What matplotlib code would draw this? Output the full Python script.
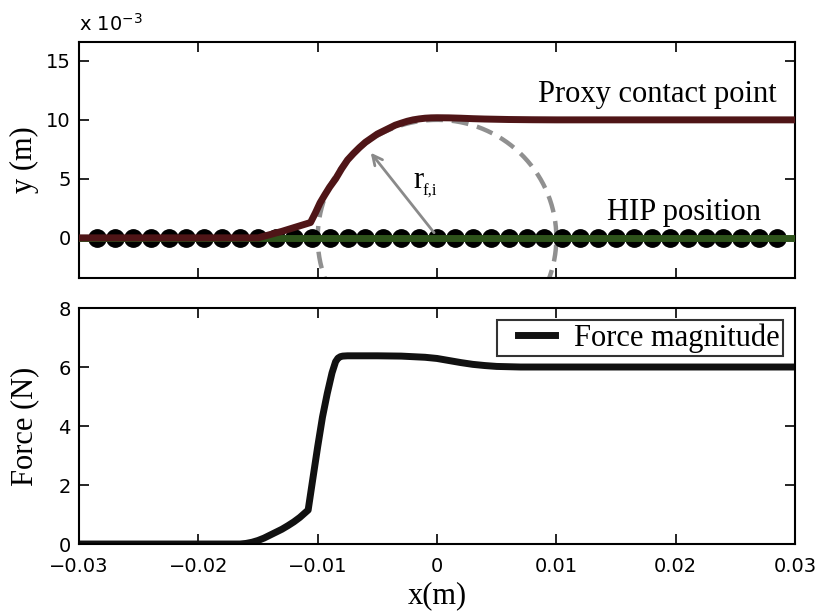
import numpy as np
import matplotlib
matplotlib.use("Agg")
import matplotlib.pyplot as plt
from matplotlib.legend_handler import HandlerLine2D

# ---- data -------------------------------------------------------------
# proxy contact point trajectory (x in m, y in 1e-3 m)
proxy_x = [-0.030, -0.0150, -0.0130, -0.0106, -0.0102, -0.0098, -0.0094,
           -0.0090, -0.0085, -0.0080, -0.0075, -0.0070, -0.0065, -0.0060,
           -0.0055, -0.0050, -0.0045, -0.0040, -0.0035, -0.0030, -0.0025,
           -0.0020, -0.0015, -0.0010, -0.0005, 0.0, 0.001, 0.002, 0.003,
           0.004, 0.005, 0.006, 0.008, 0.010, 0.030]
proxy_y = [0.0, 0.0, 0.55, 1.3, 2.1, 2.97, 3.65, 4.3, 5.0, 5.85, 6.6, 7.15,
           7.65, 8.1, 8.45, 8.8, 9.05, 9.3, 9.55, 9.72, 9.88, 10.0, 10.08,
           10.14, 10.17, 10.18, 10.17, 10.14, 10.1, 10.07, 10.05, 10.03,
           10.01, 10.0, 10.0]

# haptic interface point samples (y = 0)
hip_x = [-0.0285 + 0.0015 * k for k in range(39)]
hip_y = [0.0] * len(hip_x)
hip_line_x = [-0.03, 0.03]
hip_line_y = [0.0, 0.0]

# contact radius (m) of the dashed boundary
radius = 0.01

# force magnitude (N)
force_x = [-0.030, -0.0165, -0.0160, -0.0155, -0.0150, -0.0145, -0.0140,
           -0.0135, -0.0130, -0.0125, -0.0120, -0.0115, -0.0108, -0.0104,
           -0.0100, -0.0096, -0.0092, -0.0088, -0.0085, -0.0083, -0.0081,
           -0.0079, -0.0075, -0.0050, -0.0030, -0.0020, -0.0010, 0.0,
           0.001, 0.002, 0.003, 0.004, 0.005, 0.006, 0.007, 0.030]
force_y = [0.0, 0.0, 0.02, 0.06, 0.12, 0.2, 0.3, 0.4, 0.5, 0.62, 0.75, 0.9,
           1.15, 2.23, 3.3, 4.3, 5.1, 5.8, 6.18, 6.3, 6.35, 6.37, 6.38, 6.38,
           6.37, 6.35, 6.33, 6.29, 6.22, 6.15, 6.09, 6.05, 6.02, 6.01, 6.0,
           6.0]

x_ticks = [-0.03, -0.02, -0.01, 0, 0.01, 0.02, 0.03]
x_ticklabels = ["\u22120.03", "\u22120.02", "\u22120.01", "0", "0.01", "0.02", "0.03"]
y_top_ticks = [0, 5, 10, 15]
y_bot_ticks = [0, 2, 4, 6, 8]

# ---- style ------------------------------------------------------------
serif = "Liberation Serif"
plt.rcParams["font.family"] = "DejaVu Sans"
tick_fs = 14
label_fs = 22

fig = plt.figure(figsize=(8.19, 6.12), dpi=100)
ax1 = fig.add_axes([0.0965, 0.5458, 0.8742, 0.3856])
ax2 = fig.add_axes([0.0965, 0.1111, 0.8742, 0.3856])

for ax in (ax1, ax2):
    ax.set_xlim(-0.03, 0.03)
    ax.set_xticks(x_ticks)
    ax.tick_params(direction="in", length=7, width=1.2, top=True, right=True,
                   labelsize=tick_fs, pad=6)
    ax.tick_params(axis="x", pad=9)
    for s in ax.spines.values():
        s.set_linewidth(1.5)

# ---- top panel --------------------------------------------------------
th = np.linspace(0, 2 * np.pi, 400)
ax1.plot(radius * np.cos(th), radius * 1e3 * np.sin(th), color="#909090",
         lw=3.2, dashes=(3.8, 2.0), zorder=1)
ax1.plot(hip_x, hip_y, "o", color="black", ms=12.5, zorder=2)
ax1.plot(hip_line_x, hip_line_y, color="#2e531b", lw=5, zorder=3)
ax1.plot(proxy_x, proxy_y, color="#4f1517", lw=5, zorder=4,
         solid_joinstyle="round")

ax1.annotate("", xy=(-0.0057, 7.4), xytext=(-0.0001, 0.25),
             arrowprops=dict(arrowstyle="->,head_length=0.7,head_width=0.35",
                             color="#8a8a8a", lw=2.0), zorder=5)
ax1.text(-0.002, 4.2, "r", fontsize=label_fs, family=serif,
         ha="left", va="baseline")
ax1.text(-0.00122, 3.6, "f,i", fontsize=12, family=serif,
         ha="left", va="baseline")
ax1.text(0.00846, 11.5, "Proxy contact point", fontsize=label_fs,
         family=serif, ha="left", va="baseline")
ax1.text(0.01425, 1.5, "HIP position", fontsize=label_fs,
         family=serif, ha="left", va="baseline")

ax1.set_ylim(-3.4, 16.6)
ax1.set_yticks(y_top_ticks)
ax1.set_xticklabels([])
ax1.set_ylabel("y (m)", fontsize=label_fs, family=serif)
ax1.yaxis.set_label_coords(-0.056, 0.5)
ax1.text(0.0, 1.03, r"x 10$^{\mathsf{-3}}$", transform=ax1.transAxes,
         fontsize=tick_fs, ha="left", va="bottom")

# ---- bottom panel -----------------------------------------------------
line, = ax2.plot(force_x, force_y, color="#111111", lw=5,
                 label="Force magnitude", solid_joinstyle="round")
ax2.set_ylim(0, 8)
ax2.set_yticks(y_bot_ticks)
ax2.set_xticklabels(x_ticklabels)
ax2.set_ylabel("Force (N)", fontsize=label_fs, family=serif)
ax2.yaxis.set_label_coords(-0.056, 0.5)
ax2.set_xlabel("x(m)", fontsize=label_fs, family=serif, labelpad=4)

leg = ax2.legend(loc="upper right", prop={"family": serif, "size": label_fs},
                 frameon=True, fancybox=False, edgecolor="black",
                 handlelength=1.8, borderpad=0.1, borderaxespad=0.4,
                 handletextpad=0.63,
                 handler_map={line: HandlerLine2D(xpad=0.6)})
leg.get_frame().set_linewidth(1.5)

fig.savefig("out.png", dpi=100)
